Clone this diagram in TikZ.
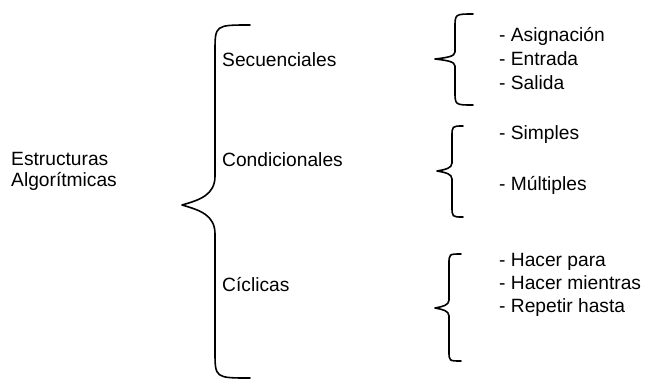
\documentclass[tikz,border=0pt]{standalone}
\usepackage{fontspec}
\setmainfont{Liberation Sans}
\begin{document}
\begin{tikzpicture}[x=1pt,y=-1pt,
  lbl/.style={inner sep=0pt,anchor=base west,font=\fontsize{19.2}{22}\selectfont},
  bracestroke/.style={line width=1.6pt,line cap=round,line join=round}]
\useasboundingbox (0,0) rectangle (650,381);
% curly brace: #1 end x, #2 spine x, #3 tip x, #4 top y, #5 tip y, #6 bottom y, #7 end radius, #8 tip radius
\newcommand\curlybrace[8]{%
  \draw[bracestroke] (#1,#4) .. controls (#2,#4) .. (#2,{#4+#7})
    -- (#2,{#5-#8})
    .. controls (#2,{#5-0.35*#8}) and ({#3+0.55*(#2-#3)},{#5-0.18*#8}) .. (#3,#5)
    .. controls ({#3+0.55*(#2-#3)},{#5+0.18*#8}) and (#2,{#5+0.35*#8}) .. (#2,{#5+#8})
    -- (#2,{#6-#7}) .. controls (#2,#6) .. (#1,#6);}
% main brace
\curlybrace{250}{215}{182}{25}{205}{378}{27}{29}
% sub-braces
\curlybrace{473}{455}{435}{14}{59}{105}{14}{7}
\curlybrace{463}{452}{437}{126}{171}{217}{11}{8}
\curlybrace{461}{449}{435}{254}{308}{361}{10}{8}
% root label
\node[lbl] (root1) at (11,165) {Estructuras};
\node[lbl] (root2) at (11,186.7) {Algorítmicas};
% categories
\node[lbl] (sec) at (222,66.7) {Secuenciales};
\node[lbl] (con) at (222,166.7) {Condicionales};
\node[lbl] (cic) at (222,291.7) {Cíclicas};
% items
\node[lbl] (s1) at (499,41) {- Asignación};
\node[lbl] (s2) at (499,65) {- Entrada};
\node[lbl] (s3) at (499,89) {- Salida};
\node[lbl] (c1) at (499,139.3) {- Simples};
\node[lbl] (c2) at (499,190.7) {- Múltiples};
\node[lbl] (l1) at (499,266) {- Hacer para};
\node[lbl] (l2) at (499,289.3) {- Hacer mientras};
\node[lbl] (l3) at (499,312.7) {- Repetir hasta};
\end{tikzpicture}
\end{document}
